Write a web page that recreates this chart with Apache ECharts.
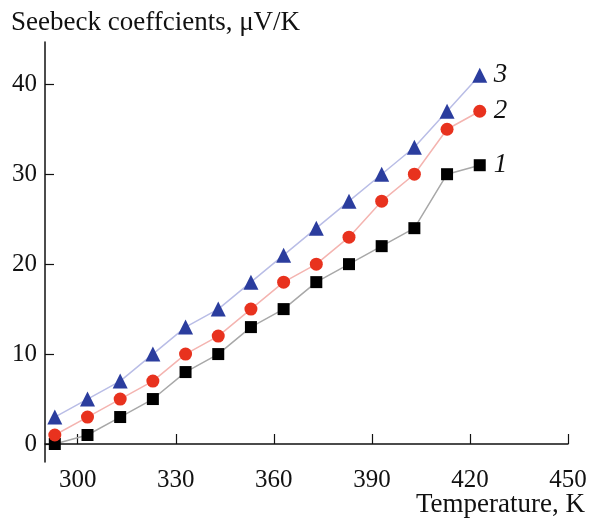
<!DOCTYPE html>
<html>
<head>
<meta charset="utf-8">
<script src="https://cdn.jsdelivr.net/npm/echarts@6/dist/echarts.min.js"></script>
<style>
  html, body { margin: 0; padding: 0; background: #fff; }
  #chart { width: 590px; height: 520px; }
</style>
</head>
<body>
<div id="chart"></div>
<script>
// Temperature points (K)
const temperatures = [293, 303, 313, 323, 333, 343, 353, 363, 373, 383, 393, 403, 413, 423];

// Seebeck coefficients (uV/K) for the three samples
const sample1 = [0, 1, 3, 5, 8, 10, 13, 15, 18, 20, 22, 24, 30, 31];
const sample2 = [1, 3, 5, 7, 10, 12, 15, 18, 20, 23, 27, 30, 35, 37];
const sample3 = [3, 5, 7, 10, 13, 15, 18, 21, 24, 27, 30, 33, 37, 41];

// Tick labels
const xTicks = [300, 330, 360, 390, 420, 450];
const yTicks = [0, 10, 20, 30, 40];

const serif = '"Liberation Serif", "DejaVu Serif", serif';

function pairs(values) {
    return temperatures.map((t, i) => [t, values[i]]);
}

function makeSeries(name, values, symbol, size, color, lineColor) {
    return {
        name: name,
        type: 'line',
        data: pairs(values),
        symbol: symbol,
        symbolSize: size,
        itemStyle: { color: color },
        lineStyle: { color: lineColor, width: 1.5 },
        z: 3,
        endLabel: {
            show: true,
            formatter: name,
            fontFamily: serif,
            fontStyle: 'italic',
            fontSize: 27,
            color: '#111',
            distance: 14
        }
    };
}

const chart = echarts.init(document.getElementById('chart'));

const option = {
    animation: false,
    grid: { left: 45, right: 22, top: 42, bottom: 58 },
    graphic: [
        {
            type: 'text', left: 11, top: 9,
            style: { text: 'Seebeck coeffcients, \u03bcV/K', font: '27px ' + serif, fill: '#111' }
        },
        {
            type: 'text', right: 5, top: 491,
            style: { text: 'Temperature, K', font: '27px ' + serif, fill: '#111' }
        }
    ],
    xAxis: {
        type: 'value',
        min: 290,
        max: 450,
        axisLine: { lineStyle: { color: '#111', width: 1.5 } },
        axisTick: { show: true, inside: true, length: 10, customValues: xTicks, lineStyle: { color: '#111', width: 1.2 } },
        axisLabel: { customValues: xTicks, fontFamily: serif, fontSize: 25, color: '#111', margin: 6 },
        splitLine: { show: false }
    },
    yAxis: {
        type: 'value',
        min: -2,
        max: 44.7,
        axisLine: { show: true, lineStyle: { color: '#111', width: 1.5 } },
        axisTick: { show: true, inside: true, length: 9, customValues: yTicks, lineStyle: { color: '#111', width: 1.2 } },
        axisLabel: { customValues: yTicks, fontFamily: serif, fontSize: 25, color: '#111', margin: 8 },
        splitLine: { show: false }
    },
    series: [
        makeSeries('1', sample1, 'rect', 12, '#000000', '#a8a8a8'),
        makeSeries('2', sample2, 'circle', 13, '#e8321e', '#f4b4b0'),
        makeSeries('3', sample3, 'triangle', 15, '#2b3d9e', '#b9bde6')
    ]
};

chart.setOption(option);
</script>
</body>
</html>
